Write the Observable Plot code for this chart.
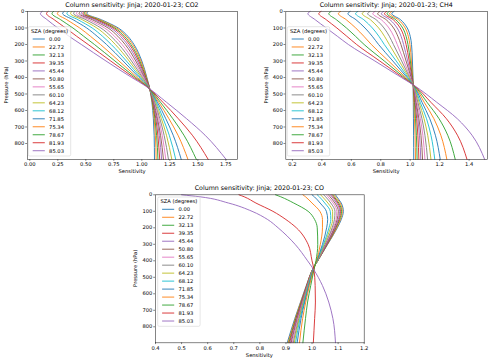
<!DOCTYPE html>
<html><head><meta charset="utf-8">
<script src="https://cdn.jsdelivr.net/npm/d3@7"></script>
<script src="https://cdn.jsdelivr.net/npm/@observablehq/plot@0.6"></script>
<style>
html,body{margin:0;padding:0;background:#fff;}
#wrap{position:relative;width:500px;height:361px;overflow:hidden;font-family:"DejaVu Sans";color:#000;}
.panel{position:absolute;}
.lab{position:absolute;white-space:nowrap;color:#000;line-height:1;transform:translate(-50%,-50%);}
#overlay{position:absolute;left:0;top:0;}
</style></head><body><div id="wrap"></div>
<script>
const SZA_LABELS = ["0.00","22.72","32.13","39.35","45.44","50.80","55.65","60.10","64.23","68.12","71.85","75.34","78.67","81.93","85.03"];
const PRESSURE_HPA = [0, 12, 50, 100, 150, 200, 300, 400, 450, 550, 650, 750, 897];
const PRESSURE_TICKS = [0, 100, 200, 300, 400, 500, 600, 700, 800];
const CO2_XTICKS = [0, 0.25, 0.5, 0.75, 1.0, 1.25, 1.5, 1.75];
const CH4_XTICKS = [0.2, 0.4, 0.6, 0.8, 1.0, 1.2, 1.4];
const CO_XTICKS = [0.4, 0.5, 0.6, 0.7, 0.8, 0.9, 1.0, 1.1, 1.2];

// Sensitivity per SZA (rows) at PRESSURE_HPA levels (columns)
const CO2_SENS = [
 [0.520,0.510,0.640,0.790,0.875,0.930,1.000,1.045,1.065,1.090,1.103,1.110,1.113],
 [0.509,0.499,0.627,0.776,0.861,0.918,0.992,1.042,1.064,1.093,1.110,1.121,1.128],
 [0.497,0.486,0.612,0.759,0.845,0.903,0.982,1.037,1.063,1.096,1.117,1.132,1.144],
 [0.484,0.474,0.598,0.743,0.829,0.889,0.972,1.033,1.062,1.100,1.125,1.143,1.160],
 [0.469,0.458,0.579,0.723,0.809,0.871,0.960,1.028,1.061,1.103,1.133,1.156,1.177],
 [0.451,0.440,0.558,0.699,0.786,0.851,0.946,1.022,1.059,1.106,1.140,1.167,1.193],
 [0.427,0.416,0.530,0.668,0.756,0.824,0.928,1.015,1.057,1.111,1.150,1.182,1.214],
 [0.402,0.391,0.501,0.635,0.724,0.795,0.908,1.006,1.055,1.115,1.161,1.199,1.238],
 [0.375,0.364,0.469,0.599,0.690,0.764,0.887,0.997,1.053,1.122,1.175,1.220,1.268],
 [0.343,0.331,0.431,0.557,0.649,0.727,0.862,0.987,1.050,1.129,1.191,1.245,1.303],
 [0.306,0.293,0.387,0.508,0.601,0.685,0.833,0.975,1.047,1.139,1.214,1.280,1.352],
 [0.259,0.246,0.331,0.446,0.541,0.631,0.796,0.959,1.043,1.151,1.242,1.323,1.412],
 [0.212,0.198,0.276,0.385,0.481,0.577,0.760,0.944,1.039,1.166,1.277,1.376,1.487],
 [0.163,0.149,0.218,0.320,0.418,0.521,0.722,0.928,1.035,1.188,1.326,1.451,1.593],
 [0.110,0.095,0.155,0.250,0.350,0.460,0.680,0.910,1.030,1.220,1.400,1.565,1.753]
];
const CH4_SENS = [
 [0.890,0.875,0.935,0.980,1.000,1.009,1.015,1.019,1.020,1.021,1.022,1.023,1.024],
 [0.875,0.860,0.920,0.966,0.987,0.998,1.008,1.017,1.020,1.025,1.029,1.033,1.036],
 [0.858,0.843,0.902,0.949,0.972,0.985,1.001,1.015,1.021,1.029,1.036,1.042,1.047],
 [0.840,0.825,0.885,0.932,0.957,0.972,0.993,1.012,1.021,1.033,1.044,1.052,1.059],
 [0.819,0.804,0.863,0.911,0.938,0.955,0.983,1.009,1.021,1.037,1.052,1.063,1.072],
 [0.794,0.779,0.837,0.887,0.916,0.937,0.972,1.006,1.022,1.041,1.059,1.073,1.084],
 [0.761,0.746,0.804,0.856,0.888,0.912,0.957,1.001,1.022,1.046,1.069,1.086,1.100],
 [0.726,0.711,0.769,0.822,0.858,0.886,0.942,0.996,1.023,1.052,1.080,1.100,1.118],
 [0.689,0.674,0.730,0.786,0.825,0.858,0.925,0.991,1.023,1.060,1.094,1.119,1.141],
 [0.644,0.629,0.685,0.743,0.787,0.824,0.905,0.985,1.024,1.068,1.111,1.141,1.167],
 [0.592,0.577,0.632,0.693,0.742,0.785,0.882,0.978,1.025,1.080,1.133,1.171,1.204],
 [0.527,0.512,0.566,0.630,0.685,0.736,0.853,0.969,1.026,1.095,1.161,1.208,1.249],
 [0.462,0.447,0.499,0.567,0.628,0.687,0.824,0.960,1.027,1.114,1.196,1.255,1.306],
 [0.394,0.379,0.430,0.502,0.569,0.636,0.793,0.950,1.029,1.140,1.246,1.321,1.386],
 [0.320,0.305,0.355,0.430,0.505,0.580,0.760,0.940,1.030,1.180,1.320,1.420,1.506]
];
const CO_SENS = [
 [1.090,1.095,1.112,1.120,1.112,1.097,1.060,1.022,1.003,0.978,0.956,0.934,0.905],
 [1.085,1.090,1.108,1.116,1.109,1.095,1.059,1.022,1.003,0.979,0.957,0.936,0.908],
 [1.080,1.085,1.103,1.113,1.106,1.092,1.058,1.022,1.003,0.980,0.959,0.938,0.911],
 [1.075,1.081,1.099,1.109,1.103,1.090,1.057,1.021,1.003,0.980,0.960,0.940,0.914],
 [1.070,1.076,1.094,1.106,1.100,1.088,1.056,1.021,1.004,0.981,0.961,0.942,0.917],
 [1.063,1.069,1.088,1.101,1.096,1.085,1.054,1.021,1.004,0.982,0.962,0.944,0.920],
 [1.055,1.061,1.081,1.095,1.092,1.081,1.052,1.021,1.004,0.983,0.964,0.946,0.924],
 [1.045,1.052,1.072,1.088,1.086,1.077,1.050,1.020,1.004,0.984,0.966,0.949,0.928],
 [1.033,1.040,1.061,1.079,1.079,1.071,1.047,1.020,1.005,0.985,0.968,0.951,0.932],
 [1.020,1.028,1.049,1.070,1.072,1.065,1.044,1.019,1.005,0.986,0.970,0.954,0.937],
 [1.000,1.009,1.031,1.055,1.060,1.056,1.040,1.018,1.006,0.988,0.972,0.958,0.943],
 [0.965,0.975,1.000,1.030,1.040,1.040,1.032,1.017,1.007,0.990,0.976,0.964,0.952],
 [0.860,0.880,0.930,0.985,1.010,1.020,1.022,1.015,1.008,0.995,0.983,0.975,0.965],
 [0.720,0.740,0.785,0.850,0.900,0.940,0.985,1.000,1.007,1.012,1.013,1.010,1.005],
 [0.500,0.570,0.680,0.770,0.830,0.870,0.935,0.983,1.005,1.040,1.064,1.080,1.090]
];
const TAB10 = ["#1f77b4","#ff7f0e","#2ca02c","#d62728","#9467bd","#8c564b","#e377c2","#7f7f7f","#bcbd22","#17becf"];
const SZA_COLORS = SZA_LABELS.map((_, i) => TAB10[i % 10]);

function toTable(rows) {
  return rows.flatMap((r, i) => r.map((s, j) => ({sza: SZA_LABELS[i], p: PRESSURE_HPA[j], s})));
}

const FS = 5.2, TFS = 6.3;
const wrap = document.getElementById("wrap");
const panels = [
  {gas:"CO2", rows:CO2_SENS, left:0, top:0, w:245, h:180, ml:27, mr:8, mt:11, mb:21, xd:[-0.0205,1.854], xt:CO2_XTICKS, fmt:d=>d.toFixed(2),
   leg:{x:28.3,y:26.7}, ylab:6},
  {gas:"CH4", rows:CH4_SENS, left:250, top:0, w:245, h:180, ml:35.3, mr:8, mt:11, mb:21, xd:[0.155,1.525], xt:CH4_XTICKS, fmt:d=>d.toFixed(1),
   leg:{x:287.3,y:26.7}, ylab:266},
  {gas:"CO", rows:CO_SENS, left:120, top:180, w:250, h:181, ml:35, mr:6.3, mt:14.3, mb:18.7, xd:[0.4,1.2], xt:CO_XTICKS, fmt:d=>d.toFixed(1),
   leg:{x:157.7,y:197}, ylab:135}
];

const NS = "http://www.w3.org/2000/svg";
const overlay = document.createElementNS(NS, "svg");
overlay.setAttribute("id","overlay");
overlay.setAttribute("width", 500); overlay.setAttribute("height", 361);
overlay.setAttribute("font-family", "DejaVu Sans");
function el(tag, attrs, text) {
  const e = document.createElementNS(NS, tag);
  for (const k in attrs) e.setAttribute(k, attrs[k]);
  if (text != null) e.textContent = text;
  overlay.appendChild(e);
  return e;
}
function htmlLabel(text, x, y, size) {
  const d = document.createElement("div");
  d.className = "lab";
  d.style.left = x + "px"; d.style.top = y + "px"; d.style.fontSize = size + "px";
  d.textContent = text;
  wrap.appendChild(d);
}

for (const P of panels) {
  const chart = Plot.plot({
    width: P.w, height: P.h,
    marginLeft: P.ml, marginRight: P.mr, marginTop: P.mt, marginBottom: P.mb,
    style: {fontFamily: "DejaVu Sans", fontSize: FS + "px", color: "#000", background: "transparent", overflow: "visible"},
    x: {domain: P.xd, label: null},
    y: {domain: [0, 897], reverse: true, label: null},
    color: {type: "ordinal", domain: SZA_LABELS, range: SZA_COLORS},
    marks: [
      Plot.line(toTable(P.rows), {x: "s", y: "p", z: "sza", stroke: "sza", curve: "monotone-y", strokeWidth: 0.9}),
      Plot.frame({stroke: "#333", strokeWidth: 0.6}),
      Plot.axisX({ticks: P.xt, tickFormat: P.fmt, tickSize: 1.8, tickPadding: 1.3, label: null, stroke: "#333", strokeWidth: 0.6}),
      Plot.axisY({ticks: PRESSURE_TICKS, tickFormat: d => String(d), tickSize: 1.8, tickPadding: 1.3, label: null, stroke: "#333", strokeWidth: 0.6})
    ]
  });
  const div = document.createElement("div");
  div.className = "panel";
  div.style.left = P.left + "px"; div.style.top = P.top + "px";
  div.appendChild(chart);
  wrap.appendChild(div);

  const fx0 = P.left + P.ml, fx1 = P.left + P.w - P.mr;
  const fy0 = P.top + P.mt, fy1 = P.top + P.h - P.mb;
  const cx = (fx0 + fx1) / 2, cy = (fy0 + fy1) / 2;
  htmlLabel("Column sensitivity: Jinja; 2020-01-23; " + P.gas, cx, fy0 - 6.2, TFS);
  htmlLabel("Sensitivity", cx, fy1 + 13.3, FS);
  el("text", {x: 0, y: 0, transform: `translate(${P.ylab},${cy}) rotate(-90)`, "text-anchor": "middle", "dominant-baseline": "central", "font-size": FS, fill: "#000"}, "Pressure (hPa)");

  // legend
  const lx = P.leg.x, ly = P.leg.y, lw = 42.4, lh = 129.3;
  el("rect", {x: lx, y: ly, width: lw, height: lh, rx: 1.5, fill: "#fff", "fill-opacity": 0.8, stroke: "#ccc", "stroke-width": 0.5});
  el("text", {x: lx + lw / 2, y: ly + 4.4, "text-anchor": "middle", "dominant-baseline": "central", "font-size": FS, fill: "#000"}, "SZA (degrees)");
  SZA_LABELS.forEach((lab, k) => {
    const yy = ly + 12.3 + 7.98 * k;
    el("line", {x1: lx + 4.4, x2: lx + 16.5, y1: yy, y2: yy, stroke: SZA_COLORS[k], "stroke-width": 0.9});
    el("text", {x: lx + 20.8, y: yy, "dominant-baseline": "central", "font-size": FS, fill: "#000"}, lab);
  });
}
wrap.appendChild(overlay);
</script></body></html>
